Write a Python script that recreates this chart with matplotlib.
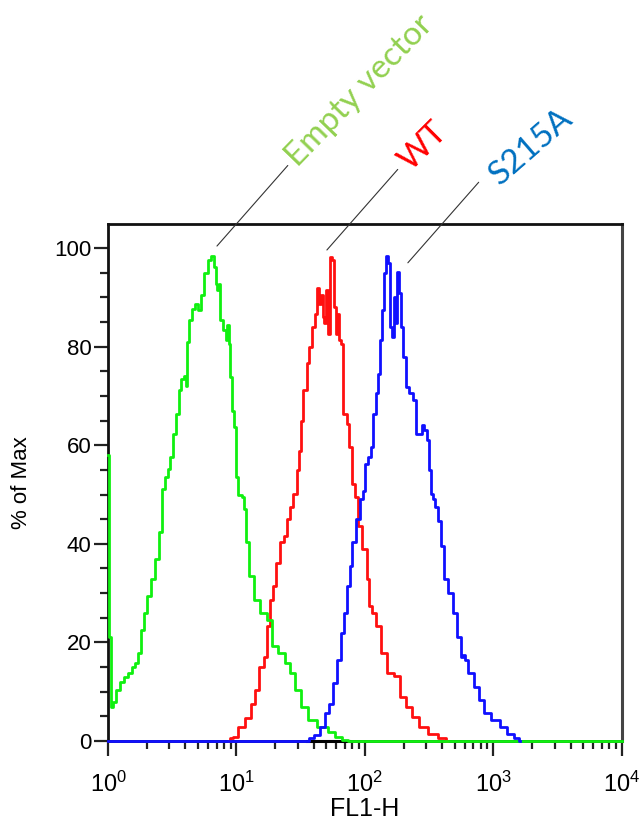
import numpy as np
import matplotlib
matplotlib.use('Agg')
import matplotlib.pyplot as plt
from matplotlib.ticker import MultipleLocator, LogLocator, NullFormatter

plt.rcParams['font.family'] = ['Liberation Sans', 'DejaVu Sans']
plt.rcParams['mathtext.fontset'] = 'custom'
plt.rcParams['mathtext.rm'] = 'Liberation Sans'
plt.rcParams['mathtext.default'] = 'regular'

# FL1-H histograms, channel position as log10(FL1-H), value as % of max
green_log = [0.0, 0.012, 0.03, 0.054, 0.077, 0.109, 0.14, 0.17, 0.2, 0.22, 0.25, 0.268,
             0.29, 0.316, 0.348, 0.38, 0.41, 0.43, 0.457, 0.47, 0.496, 0.514, 0.54, 0.56,
             0.58, 0.6, 0.61, 0.625, 0.643, 0.664, 0.69, 0.716, 0.729, 0.763, 0.794, 0.815,
             0.833, 0.846, 0.856, 0.866, 0.885, 0.91, 0.924, 0.936, 0.944, 0.95, 0.975,
             0.988, 1.0, 1.03, 1.05, 1.065, 1.083, 1.115, 1.16, 1.21, 1.26, 1.29, 1.35,
             1.40, 1.43, 1.48, 1.53, 1.58, 1.67, 1.75, 1.79, 1.85, 1.88, 4.0]
green_pct = [58, 21, 7, 8, 10.3, 12, 13, 13.7, 15, 15.8, 17.8, 22.6,
             26, 29.5, 32.9, 37, 42.3, 51.2, 53.5, 55.2, 57.6, 62.3, 66.4, 71.1,
             73.5, 74, 72, 81, 85.4, 87.7, 88.6, 87.4, 90.4, 94.9, 97.6, 98.4,
             96.2, 92.8, 91.5, 92.8, 85.4, 83.3, 81.3, 84.3, 80.6, 73.8, 67,
             63.7, 53.5, 50, 49.5, 47, 40.3, 33.5, 28.7, 26, 24.6, 19.2, 17.8,
             15.8, 13.7, 10.3, 6.9, 4.2, 2.9, 1.8, 0.8, 0.3, 0, 0]

red_log = [0.94, 0.96, 0.987, 1.035, 1.10, 1.13, 1.163, 1.195, 1.227, 1.25, 1.275, 1.297,
           1.323, 1.355, 1.387, 1.40, 1.43, 1.455, 1.48, 1.494, 1.507, 1.533, 1.559, 1.577,
           1.598, 1.624, 1.637, 1.655, 1.665, 1.675, 1.69, 1.70, 1.72, 1.735, 1.75, 1.766,
           1.78, 1.79, 1.805, 1.82, 1.844, 1.87, 1.883, 1.91, 1.935, 1.96, 2.0, 2.025,
           2.04, 2.07, 2.105, 2.15, 2.2, 2.25, 2.30, 2.345, 2.39, 2.457, 2.52, 2.62, 2.64]
red_pct = [0, 0.7, 0.8, 2.9, 4.6, 7.6, 10.3, 15.1, 17.1, 23.3, 28.7, 31.4,
           36.2, 40.3, 41.6, 45, 47.4, 50.1, 54.9, 58.9, 65, 71.1, 76.6, 79.9,
           84, 86.7, 91.8, 88.7, 90.5, 86, 84.7, 91.5, 82.6, 98.2, 97.6, 88,
           82.6, 86.7, 81.3, 80.6, 66.4, 64.4, 59.6, 52.2, 49.5, 43.7, 38.9, 32.8,
           27.3, 26, 23.3, 17.8, 13.7, 13.1, 9, 6.9, 4.9, 2.9, 1.5, 0.7, 0]

blue_log = [0.0, 1.55, 1.578, 1.626, 1.674, 1.706, 1.738, 1.77, 1.80, 1.827, 1.85, 1.872,
            1.89, 1.914, 1.946, 1.978, 1.987, 2.013, 2.04, 2.052, 2.078, 2.096, 2.11, 2.13,
            2.143, 2.156, 2.174, 2.19, 2.2, 2.22, 2.233, 2.247, 2.259, 2.272, 2.286, 2.31,
            2.325, 2.363, 2.39, 2.40, 2.43, 2.454, 2.47, 2.49, 2.506, 2.53, 2.537, 2.558,
            2.58, 2.60, 2.633, 2.665, 2.70, 2.73, 2.76, 2.775, 2.79, 2.82, 2.87, 2.90,
            2.95, 3.016, 3.08, 3.13, 3.19, 3.21]
blue_pct = [0, 0, 0.7, 1.2, 2.9, 5.6, 7.6, 11.7, 16.5, 21.9, 26, 31.4,
            35.5, 40.3, 45, 49, 50.8, 56.2, 57.6, 59.6, 66.4, 70.5, 74.5, 81.3,
            87.4, 94.9, 98.4, 96.9, 84, 82, 90.1, 84.7, 95.2, 90.8, 84, 77.9,
            71.8, 70.5, 69.1, 62.3, 62.3, 64, 63, 61, 54.9, 50.1, 49, 47.4,
            44.7, 39.6, 32.8, 30, 26, 21.2, 17.1, 17.5, 16.5, 13.7, 11, 8.3,
            5.6, 4.2, 2.9, 1.5, 0.7, 0]

# short black stretch left on the baseline between the blue and green ones
black_log = [1.55, 1.88]
black_pct = [0, 0]

# labels: text, colour, peak point the leader line points at, text angle, text offset
labels = ['Empty vector', 'WT', 'S215A']
label_colors = ['#92D050', '#FF0000', '#0070C0']
label_xy = [(7.05, 100.4), (50.6, 99.6), (216, 97.0)]
label_rot = [46, 45, 41]
label_off = [(58, 56), (60, 56), (66, 55)]

fig = plt.figure(figsize=(6.43, 8.23), dpi=100)
ax = fig.add_axes([0.168, 0.0996, 0.799, 0.6284])

ax.plot(10 ** np.asarray(black_log), black_pct, color='black', lw=2.2, clip_on=False, zorder=3)
ax.plot(10 ** np.asarray(red_log), red_pct, color='#FF1010', lw=2.0,
        drawstyle='steps-mid', clip_on=False, zorder=4)
ax.plot(10 ** np.asarray(green_log), green_pct, color='#10F010', lw=2.0,
        drawstyle='steps-mid', clip_on=False, zorder=5)
ax.plot(10 ** np.asarray(blue_log), blue_pct, color='#1010FF', lw=2.0,
        drawstyle='steps-mid', clip_on=False, zorder=6)

ax.set_xscale('log')
ax.set_xlim(1, 1e4)
ax.set_ylim(0, 104.9)

ax.yaxis.set_major_locator(MultipleLocator(20))
ax.yaxis.set_minor_locator(MultipleLocator(5))
ax.xaxis.set_major_locator(LogLocator(base=10, numticks=10))
ax.xaxis.set_minor_locator(LogLocator(base=10, subs=np.arange(2, 10), numticks=10))
ax.xaxis.set_minor_formatter(NullFormatter())

ax.tick_params(axis='y', which='major', length=10, width=1.6, labelsize=16, pad=2, color='#222')
ax.tick_params(axis='y', which='minor', length=5.5, width=1.6, color='#222')
ax.tick_params(axis='x', which='major', length=11, width=1.6, labelsize=17, pad=11, color='#222')
ax.tick_params(axis='x', which='minor', length=6, width=1.6, color='#222')

for side in ['left', 'bottom', 'top']:
    ax.spines[side].set_linewidth(2.0)
    ax.spines[side].set_color('#111')
ax.spines['right'].set_linewidth(2.2)
ax.spines['right'].set_color('#444')

ax.set_xlabel('FL1-H', fontsize=18, labelpad=0)
ax.set_ylabel('% of Max', fontsize=16)
ax.yaxis.set_label_coords(-0.148, 0.5)

# rotated labels with thin leader lines up to the peaks
for txt, col, xy, rot, off in zip(labels, label_colors, label_xy, label_rot, label_off):
    ax.annotate('', xy=xy, xytext=(51, 58), textcoords='offset points',
                arrowprops=dict(arrowstyle='-', color='#333', lw=0.8,
                                shrinkA=0, shrinkB=0),
                annotation_clip=False)
    ax.annotate(txt, xy=xy, xytext=off, textcoords='offset points',
                rotation=rot, rotation_mode='anchor', ha='left', va='baseline',
                color=col, fontsize=24, family=['Lato', 'DejaVu Sans'],
                annotation_clip=False)

fig.savefig('out.png', dpi=100)
